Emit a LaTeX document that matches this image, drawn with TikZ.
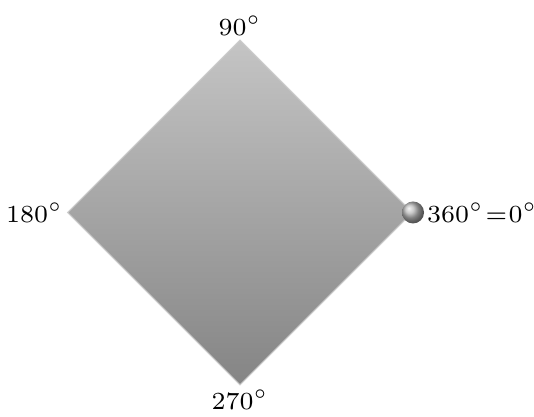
\documentclass[tikz,border=0pt]{standalone}
\usetikzlibrary{shapes.geometric,positioning}
\begin{document}
\begin{tikzpicture}[
    square/.style={diamond, minimum width=3.45cm, minimum height=3.45cm, inner sep=0pt,
        top color=gray!46, bottom color=gray!96, draw=gray!40, line width=0.3pt},
    angle/.style={font=\fontsize{7.2}{9}\selectfont, inner sep=1pt},
    knob/.style={circle, minimum size=0.22cm, inner sep=0pt, ball color=gray!55}
]
    \useasboundingbox (0,0) rectangle (5.34,4.17);

    % The rotated square
    \node[square] (D) at (2.40,2.045) {};

    % Marker on the right corner
    \node[knob] (K) at (D.east) {};

    % Angle labels
    \node[angle, above=0pt of D.north] (A90) {$90^\circ$};
    \node[angle, left=0pt of D.west] (A180) {$180^\circ$};
    \node[angle, below=0pt of D.south] (A270) {$270^\circ$};
    \node[angle, right=-0.5pt of K.east] (A0) {$360^\circ\mskip1mu{=}\mskip1mu0^\circ$};
\end{tikzpicture}
\end{document}
